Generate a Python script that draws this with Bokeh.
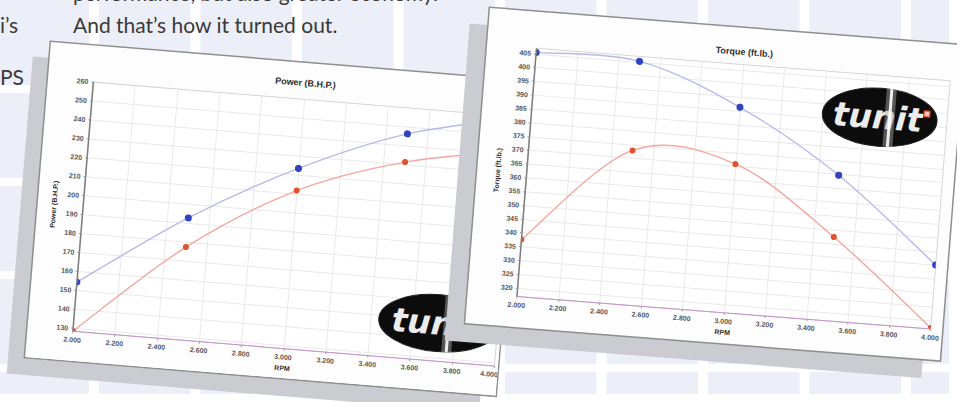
import math
from bokeh.plotting import figure
from bokeh.models import Row, Column, Div, Spacer, FixedTicker
from bokeh.core.properties import value
from bokeh.embed import file_html
from bokeh.resources import INLINE

# ---------------- data ----------------
rpm = [2000, 2500, 3000, 3500, 4000]
power_stock = [128.6, 177.5, 211.9, 231.5, 241.7]
power_tuned = [154.4, 192.9, 223.6, 246.4, 259.1]
torque_stock = [337.7, 372.9, 370.9, 347.4, 317.4]
torque_tuned = [405.5, 405.2, 391.5, 369.8, 340.2]

rpm_ticks = [2000, 2200, 2400, 2600, 2800, 3000, 3200, 3400, 3600, 3800, 4000]
rpm_tick_labels = ["2.000", "2.200", "2.400", "2.600", "2.800", "3.000",
                   "3.200", "3.400", "3.600", "3.800", "4.000"]
power_ticks = [130, 140, 150, 160, 170, 180, 190, 200, 210, 220, 230, 240, 250, 260]
torque_ticks = [320, 325, 330, 335, 340, 345, 350, 355, 360, 365, 370, 375, 380,
                385, 390, 395, 400, 405]

TUNED_LINE, TUNED_DOT = "#b6baea", "#3442bd"
STOCK_LINE, STOCK_DOT = "#f3a79f", "#e0522e"
CARD_H = 316


def smooth_segments(xs, ys):
    """Catmull-Rom -> cubic Bezier control points through the data points."""
    n = len(xs)
    out = {k: [] for k in ("x0", "y0", "x1", "y1", "cx0", "cy0", "cx1", "cy1")}
    for i in range(n - 1):
        a = i - 1 if i > 0 else i
        d = i + 2 if i + 2 < n else i + 1
        out["x0"].append(xs[i]); out["y0"].append(ys[i])
        out["x1"].append(xs[i + 1]); out["y1"].append(ys[i + 1])
        out["cx0"].append(xs[i] + (xs[i + 1] - xs[a]) / 6.0)
        out["cy0"].append(ys[i] + (ys[i + 1] - ys[a]) / 6.0)
        out["cx1"].append(xs[i + 1] - (xs[d] - xs[i]) / 6.0)
        out["cy1"].append(ys[i + 1] - (ys[d] - ys[i]) / 6.0)
    return out


def make_chart(title, ylabel, y0, y1, yticks, stock, tuned, width, left, right, angle,
               title_gap, logo_fx, logo_fy, logo_w, logo_h):
    top, bottom = 36, 30
    frame_w = width - left - right
    frame_h = CARD_H - top - bottom
    # the canvas takes the size of the rotated bounding box, so pre-shrink the host
    c, s = math.cos(math.radians(angle)), math.sin(math.radians(angle))
    den = c * c - s * s
    w_host = round((width * c - CARD_H * s) / den)
    h_host = round((CARD_H * c - width * s) / den)
    p = figure(width=w_host, height=h_host, sizing_mode="fixed",
               x_range=(rpm_ticks[0], rpm_ticks[-1]), y_range=(y0, y1),
               toolbar_location=None, output_backend="svg",
               min_border_left=left, min_border_right=right,
               min_border_top=top, min_border_bottom=bottom)
    p.border_fill_color = "#fdfdfd"
    p.background_fill_color = "#ffffff"
    p.outline_line_color = "#d6d6d6"
    p.title.text = title
    p.title.align = "center"
    p.title.text_font = "Liberation Sans"
    p.title.text_font_size = "9px"
    p.title.text_font_style = "bold"
    p.title.text_color = "#2e2e2e"
    p.title.standoff = title_gap

    p.xaxis.ticker = FixedTicker(ticks=rpm_ticks)
    p.xaxis.major_label_overrides = dict(zip(rpm_ticks, rpm_tick_labels))
    p.yaxis.ticker = FixedTicker(ticks=yticks)
    p.xaxis.axis_label = "RPM"
    p.yaxis.axis_label = ylabel
    for ax in (p.xaxis, p.yaxis):
        ax.major_label_text_font = "Liberation Sans"
        ax.major_label_text_font_size = "7px"
        ax.major_label_text_font_style = "bold"
        ax.major_label_text_color = "#5a5a5a"
        ax.axis_label_text_font = "Liberation Sans"
        ax.axis_label_text_font_size = "7px"
        ax.axis_label_text_font_style = "bold"
        ax.axis_label_text_color = "#333333"
        ax.minor_tick_line_color = None
        ax.major_tick_in = 0
        ax.major_tick_out = 2
        ax.major_tick_line_color = "#9a9a9a"
    p.xaxis.axis_line_color = "#c393c9"
    p.xaxis.major_label_standoff = 4
    p.xaxis.axis_label_standoff = 2
    p.yaxis.axis_line_color = "#7d7d7d"
    p.yaxis.axis_line_width = 1.5
    p.yaxis.major_label_standoff = 3
    p.yaxis.axis_label_standoff = 6
    p.xgrid.grid_line_color = "#e9e9e9"
    p.ygrid.grid_line_color = "#e9e9e9"

    for ys, lc, dc, sz in ((tuned, TUNED_LINE, TUNED_DOT, 6), (stock, STOCK_LINE, STOCK_DOT, 5)):
        seg = smooth_segments(rpm, ys)
        p.bezier(x0="x0", y0="y0", x1="x1", y1="y1", cx0="cx0", cy0="cy0",
                 cx1="cx1", cy1="cy1", source=seg, line_color=lc, line_width=1.4)
        p.scatter(rpm, ys, size=sz, fill_color=dc, line_color=dc)

    # "tunit" logo placed at a fraction of the plot area
    xs, xe = rpm_ticks[0], rpm_ticks[-1]
    dxp = (xe - xs) / frame_w
    dyp = (y1 - y0) / frame_h
    cx = xs + logo_fx * (xe - xs)
    cy = y1 - logo_fy * (y1 - y0)
    p.ellipse(x=[cx], y=[cy], width=logo_w, height=logo_h, width_units="screen",
              height_units="screen", fill_color="#0c0c0c", line_color="#202020")
    p.text(x=[cx - 2 * dxp], y=[cy], text=["tunit"], text_align="center",
           text_baseline="middle", text_font=value("DejaVu Sans"),
           text_font_style="bold italic", text_font_size="33px", text_color="#ececec")
    p.rect(x=[cx + 10 * dxp], y=[cy], width=10, height=logo_h, width_units="screen",
           height_units="screen", fill_color="#b0b0b0", fill_alpha=0.45, line_color=None)
    p.rect(x=[cx + 10 * dxp], y=[cy], width=3, height=logo_h, width_units="screen",
           height_units="screen", fill_color="#ffffff", fill_alpha=0.9, line_color=None)
    p.scatter(x=[cx + 47 * dxp], y=[cy + 7 * dyp], marker="square", size=6,
              fill_color="#f5c4b4", line_color="#d8391b", line_width=1.2)

    card = Column(children=[p], width=width, height=CARD_H, sizing_mode="fixed")
    return card


card_power = make_chart("Power (B.H.P.)", "Power (B.H.P.)", 128.5, 260, power_ticks,
                        power_stock, power_tuned, width=472, left=45, right=4, angle=4.7,
                        title_gap=23, logo_fx=0.86, logo_fy=0.848, logo_w=120, logo_h=57)
card_torque = make_chart("Torque (ft.lb.)", "Torque (ft.lb.)", 317.0, 407.0, torque_ticks,
                         torque_stock, torque_tuned, width=476, left=49, right=11, angle=4.5,
                         title_gap=15, logo_fx=0.8375, logo_fy=0.168, logo_w=115, logo_h=58)

card_power.styles = {"transform": "translate(40px, 42px) rotate(4.7deg)",
                     "transform-origin": "0 0", "background-color": "#fdfdfd",
                     "box-shadow": "0 0 0 1.5px #8e8e8e, -16px 17px 0 1px #cbccd1"}
card_torque.styles = {"transform": "translate(7px, 8px) rotate(4.5deg)",
                      "transform-origin": "0 0", "background-color": "#fdfdfd",
                      "box-shadow": "0 0 0 1.5px #8e8e8e, -18px 18px 0 1px #cbccd1"}

F = "font-family:Lato,'Open Sans',sans-serif;font-size:21px;line-height:1;color:#3a3a3a;white-space:nowrap;position:absolute;"
html = (
    '<div style="position:relative;width:0;height:0;">'
    f'<div style="{F}left:68px;top:-35px;">performance, but also greater economy.</div>'
    f'<div style="{F}left:68px;top:-3px;">And that\u2019s how it turned out.</div>'
    f'<div style="{F}left:-5px;top:-3px;">i\u2019s</div>'
    f'<div style="{F}left:-5px;top:49px;">PS</div>'
    '</div>'
)
txt = Div(text=html, width=1, height=1, styles={"overflow": "visible"})

charts = Row(children=[txt, card_power, card_torque])
root = Column(children=[charts, Spacer(width=949, height=78)],
              styles={"overflow": "clip", "overflow-clip-margin": "8px",
                      "width": "949px", "height": "394px",
                      "background-color": "#eceef8",
                      "background-image": "linear-gradient(90deg, #ffffff 9.5px, transparent 9.5px), "
                                          "linear-gradient(180deg, #ffffff 8px, transparent 8px)",
                      "background-size": "101.5px 93px",
                      "background-position": "89px 85px"})

open("out.html", "w").write(file_html(root, INLINE))
